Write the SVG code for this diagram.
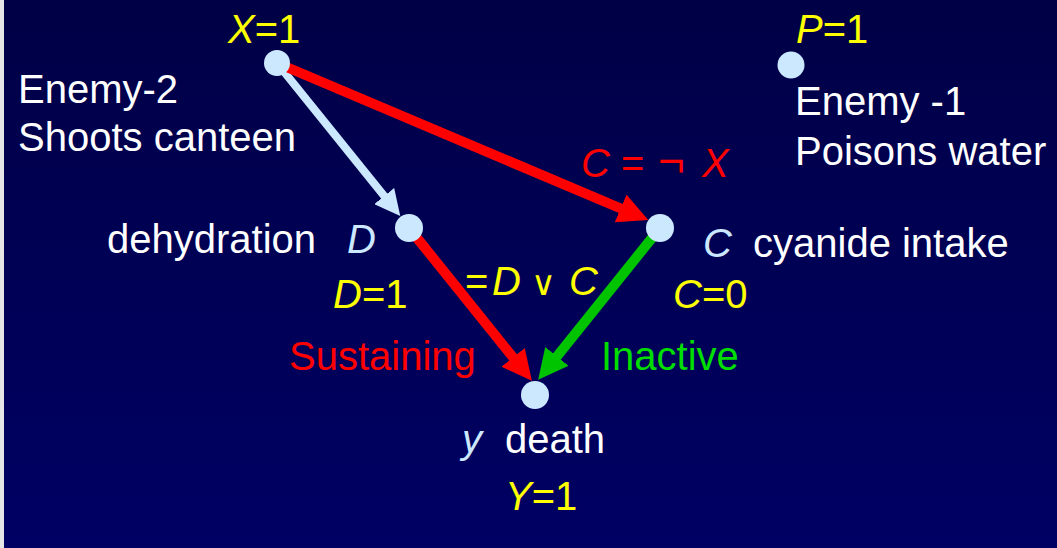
<svg xmlns="http://www.w3.org/2000/svg" width="1057" height="548" viewBox="0 0 1057 548">
  <defs>
    <linearGradient id="bg" x1="0" y1="0" x2="0" y2="1">
      <stop offset="0" stop-color="#000046"/>
      <stop offset="1" stop-color="#000064"/>
    </linearGradient>
    <marker id="ahBlue" viewBox="0 0 10 10" refX="0.5" refY="5" markerWidth="3.2" markerHeight="3.2" orient="auto" markerUnits="strokeWidth">
      <path d="M0,0 L10,5 L0,10 z" fill="#cce8ff"/>
    </marker>
    <marker id="ahRed" viewBox="0 0 10 10" refX="0.5" refY="5" markerWidth="3" markerHeight="3" orient="auto" markerUnits="strokeWidth">
      <path d="M0,0 L10,5 L0,10 z" fill="#ff0000"/>
    </marker>
    <marker id="ahGreen" viewBox="0 0 10 10" refX="0.5" refY="5" markerWidth="3" markerHeight="3" orient="auto" markerUnits="strokeWidth">
      <path d="M0,0 L10,5 L0,10 z" fill="#00c400"/>
    </marker>
  </defs>
  <style>
    text { font-family: "Liberation Sans", Arial, sans-serif; font-size: 40px; }
    .w { fill: #ffffff; }
    .y { fill: #ffff00; }
    .lb { fill: #cce8ff; }
    .r { fill: #ff0000; }
    .g { fill: #00dd00; }
    .i { font-style: italic; }
    .node { fill: #cce8ff; }
    .conn { fill: none; stroke-linecap: butt; }
    .sym { font-family: "DejaVu Sans", sans-serif; font-weight: 200; font-size: 34px; }
  </style>
  <rect x="0" y="0" width="1057" height="548" fill="url(#bg)"/>
  <rect x="0" y="0" width="4" height="548" fill="#e6e6e6"/>

  <g id="connectors">
    <line class="conn" x1="277" y1="63" x2="385" y2="197" stroke="#cce8ff" stroke-width="8" marker-end="url(#ahBlue)"/>
    <line class="conn" x1="277" y1="63" x2="622" y2="209" stroke="#ff0000" stroke-width="10" marker-end="url(#ahRed)"/>
    <line class="conn" x1="409" y1="228" x2="514" y2="358.6" stroke="#ff0000" stroke-width="10" marker-end="url(#ahRed)"/>
    <line class="conn" x1="660" y1="228" x2="556" y2="357.6" stroke="#00c400" stroke-width="10" marker-end="url(#ahGreen)"/>
  </g>

  <g id="node-X">
    <circle class="node" cx="277" cy="63" r="13"/>
    <text x="228" y="43" class="y"><tspan class="i">X</tspan>=1</text>
    <text x="18" y="103" class="w">Enemy-2</text>
    <text x="18" y="151" class="w">Shoots canteen</text>
  </g>

  <g id="node-P">
    <circle class="node" cx="791" cy="65" r="13.5"/>
    <text x="796" y="43" class="y"><tspan class="i">P</tspan>=1</text>
    <text x="795" y="115" class="w">Enemy -1</text>
    <text x="795" y="165" class="w">Poisons water</text>
  </g>

  <g id="node-D">
    <circle class="node" cx="409" cy="228" r="14"/>
    <text x="107" y="253" class="w">dehydration</text>
    <text x="347" y="253" class="lb i">D</text>
    <text x="333" y="308" class="y"><tspan class="i">D</tspan>=1</text>
  </g>

  <g id="node-C">
    <circle class="node" cx="660" cy="228" r="14"/>
    <text x="703" y="257" class="lb i">C</text>
    <text x="753" y="257" class="w">cyanide intake</text>
    <text x="673" y="308" class="y"><tspan class="i">C</tspan>=0</text>
  </g>

  <g id="node-Y">
    <circle class="node" cx="535" cy="395" r="14"/>
    <text x="462" y="453" class="lb i">y</text>
    <text x="505" y="453" class="w">death</text>
    <text x="505" y="510" class="y"><tspan class="i">Y</tspan>=1</text>
  </g>

  <g id="labels">
    <text y="177" class="r"><tspan x="581" class="i">C</tspan><tspan x="621">=</tspan><tspan x="658" style="font-size:46px">¬</tspan><tspan x="702" class="i">X</tspan></text>
    <text y="295" class="y"><tspan x="465">=</tspan><tspan x="492" class="i">D</tspan><tspan x="531" class="sym">∨</tspan><tspan x="569" class="i">C</tspan></text>
    <text x="289" y="370" class="r">Sustaining</text>
    <text x="601" y="370" class="g">Inactive</text>
  </g>
</svg>
